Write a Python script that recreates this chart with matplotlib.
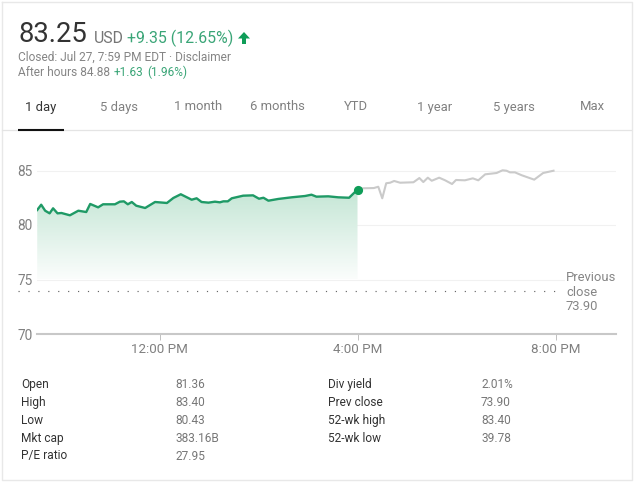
import numpy as np
import matplotlib
matplotlib.use("Agg")
import matplotlib.pyplot as plt
from matplotlib.patches import Polygon, PathPatch
from matplotlib.path import Path
from matplotlib.colors import LinearSegmentedColormap

plt.rcParams['font.family'] = ['Roboto', 'DejaVu Sans']

# ---- data -----------------------------------------------------------------
day_hours = [9.53, 9.61, 9.69, 9.78, 9.85, 9.94, 10.02, 10.19, 10.36, 10.52, 10.60, 10.76, 10.86,
             11.10, 11.20, 11.28, 11.36, 11.44, 11.53, 11.71, 11.91, 12.15, 12.28, 12.43, 12.65,
             12.75, 12.85, 12.99, 13.12, 13.22, 13.29, 13.38, 13.46, 13.69, 13.89, 14.01, 14.10,
             14.20, 14.40, 14.67, 14.94, 15.07, 15.17, 15.41, 15.61, 15.83, 16.00]
day_prices = [81.38, 81.86, 81.31, 81.07, 81.53, 81.07, 81.10, 80.89, 81.31, 81.19, 81.93, 81.62, 81.90,
              81.90, 82.14, 82.17, 81.90, 82.11, 81.77, 81.56, 82.11, 82.02, 82.48, 82.82, 82.32,
              82.45, 82.11, 82.05, 82.14, 82.08, 82.17, 82.17, 82.45, 82.69, 82.72, 82.41, 82.50,
              82.23, 82.39, 82.54, 82.66, 82.78, 82.60, 82.63, 82.54, 82.50, 83.25]
after_hours = [16.00, 16.12, 16.33, 16.42, 16.50, 16.58, 16.66, 16.74, 16.86, 17.13, 17.25, 17.33,
               17.42, 17.50, 17.65, 17.77, 17.91, 17.99, 18.17, 18.33, 18.44, 18.58, 18.81, 18.93,
               19.01, 19.08, 19.18, 19.32, 19.57, 19.75, 19.96]
after_prices = [83.25, 83.37, 83.39, 83.51, 82.45, 83.83, 83.88, 84.04, 83.88, 83.92, 84.31, 83.94,
                84.34, 84.06, 84.34, 84.10, 83.76, 84.13, 84.10, 84.28, 84.10, 84.65, 84.77, 85.02,
                84.98, 84.83, 84.83, 84.56, 84.16, 84.77, 84.98]
prev_close = 73.90
y_ticks = [70, 75, 80, 85]
x_ticks = [12, 16, 20]
x_tick_labels = ['12:00 PM', '4:00 PM', '8:00 PM']
tabs = ['1 day', '5 days', '1 month', '6 months', 'YTD', '1 year', '5 years', 'Max']
left_labels = ['Open', 'High', 'Low', 'Mkt cap', 'P/E ratio']
left_values = ['81.36', '83.40', '80.43', '383.16B', '27.95']
right_labels = ['Div yield', 'Prev close', '52-wk high', '52-wk low']
right_values = ['2.01%', '73.90', '83.40', '39.78']

# ---- layout ---------------------------------------------------------------
W, H = 634, 482
GREEN = '#0f9d58'
LINE_GREEN = '#1f9a66'
GREY = '#808080'
fig = plt.figure(figsize=(W / 100, H / 100), dpi=100, facecolor='white')

ax_l, ax_r, ax_t, ax_b = 37, 616, 150, 334
ax = fig.add_axes([ax_l / W, 1 - ax_b / H, (ax_r - ax_l) / W, (ax_b - ax_t) / H])
ax.set_xlim(12 + (ax_l - 159.5) / 49.5, 12 + (ax_r - 159.5) / 49.5)
ax.set_ylim(70, 70 + (ax_b - ax_t) / 10.9)
for name in ('top', 'right', 'left'):
    ax.spines[name].set_visible(False)
ax.spines['bottom'].set_color('#c8c8c8')
ax.spines['bottom'].set_linewidth(1.5)
ax.set_yticks(y_ticks)
ax.set_xticks(x_ticks)
ax.set_xticklabels(x_tick_labels)
ax.tick_params(axis='y', length=0, pad=3, labelsize=9.8, labelcolor=GREY)
ax.tick_params(axis='x', length=4.5, width=0.7, color='#c0c0c0', pad=2.2, labelsize=9.6, labelcolor=GREY)
ax.grid(axis='y', color='#f1f1f1', lw=0.8, zorder=0)
ax.set_axisbelow(True)

# gradient area under the regular-session line
cmap = LinearSegmentedColormap.from_list('fade', ['#fbfdfc', '#c4e6d5'])
grad = np.linspace(1, 0, 256).reshape(-1, 1)
img = ax.imshow(grad, cmap=cmap, vmin=0, vmax=1, aspect='auto', zorder=1,
                extent=[day_hours[0], day_hours[-1], 75, max(day_prices)])
verts = [(day_hours[0], 75)] + list(zip(day_hours, day_prices)) + [(day_hours[-1], 75), (day_hours[0], 75)]
codes = [Path.MOVETO] + [Path.LINETO] * (len(verts) - 2) + [Path.CLOSEPOLY]
clip = PathPatch(Path(verts, codes), transform=ax.transData, fc='none', ec='none')
ax.add_patch(clip)
img.set_clip_path(clip)
ax.set_xlim(12 + (ax_l - 159.5) / 49.5, 12 + (ax_r - 159.5) / 49.5)
ax.set_ylim(70, 70 + (ax_b - ax_t) / 10.9)

ax.plot(after_hours, after_prices, color='#cacaca', lw=1.5, zorder=3, solid_joinstyle='round')
ax.plot(day_hours, day_prices, color=LINE_GREEN, lw=1.7, zorder=4, solid_joinstyle='round')
ax.plot(day_hours[-1:], day_prices[-1:], 'o', ms=6.6, color=GREEN, mec='none', zorder=5)

# previous close dotted line
ax.plot([9.14, 20.09], [prev_close, prev_close], color='#666666', lw=0.85,
        ls=(0, (1, 7.4)), clip_on=False, zorder=3)

# ---- page overlay in pixel coordinates -------------------------------------
ov = fig.add_axes([0, 0, 1, 1], facecolor='none')
ov.set_xlim(0, W)
ov.set_ylim(H, 0)
ov.axis('off')


def put(x, y, s, size, color=GREY, **kw):
    kw.setdefault('va', 'center')
    return ov.text(x, y, s, fontsize=size, color=color, **kw)


# card border and tab rule
ov.plot([1.5, 1.5, 631.5, 631.5, 1.5], [1.5, 480, 480, 1.5, 1.5], color='#e8e8e8', lw=1.0)
ov.plot([2, 631], [129.5, 129.5], color='#e4e4e4', lw=0.9)
ov.plot([18, 64], [130, 130], color='#111111', lw=1.5, solid_capstyle='butt')

# header
put(18, 35, '83.25', 19.8, '#333333')
put(94, 38.5, 'USD', 11.4, '#757575')
t_green = '#3aa577'
put(127, 38.5, '+9.35 (12.65%)', 11.4, t_green)
ov.add_patch(Polygon([(244, 32), (250, 38.5), (246, 38.5), (246, 44), (242, 44), (242, 38.5), (238, 38.5)],
                     closed=True, fc=GREEN, ec='none'))
put(18, 57.5, 'Closed: Jul 27, 7:59 PM EDT · Disclaimer', 8.6, '#858585')
put(18, 72, 'After hours 84.88', 8.6, '#858585')
put(114, 72, '+1.63', 8.6, t_green)
put(147, 72, '(1.96%)', 8.6, t_green)

# tabs
tab_x = [41, 119, 198, 277, 356, 435, 514, 592]
for i, (x, s) in enumerate(zip(tab_x, tabs)):
    put(x, 107, s, 9.4, '#333333' if i == 0 else GREY, ha='center')

# previous close caption
for y, s in zip((277.5, 292, 306.5), ('Previous', 'close', f'{prev_close:.2f}')):
    put(566, y, s, 9.4, '#858585', bbox=dict(fc='white', ec='none', pad=0.6))

# stats table
rows = [384.5, 402.5, 420.5, 438.5, 456]
for y, a, b in zip(rows, left_labels, left_values):
    put(21, y, a, 8.6, '#333333')
    put(175, y, b, 8.6, '#777777')
for y, a, b in zip(rows, right_labels, right_values):
    put(328, y, a, 8.6, '#333333')
    put(481, y, b, 8.6, '#777777')

fig.savefig('out.png', dpi=100, facecolor='white')
